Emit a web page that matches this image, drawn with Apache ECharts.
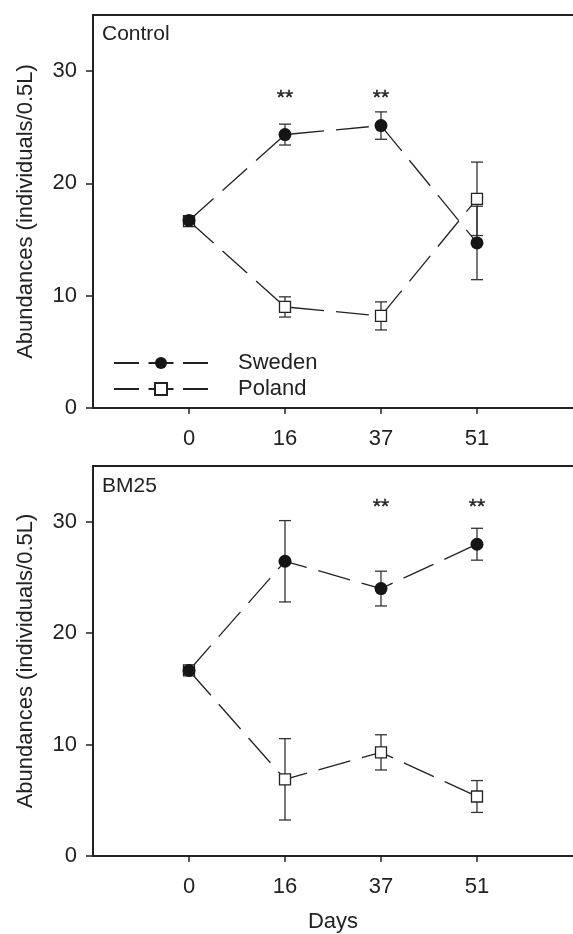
<!DOCTYPE html>
<html><head><meta charset="utf-8">
<script src="https://cdn.jsdelivr.net/npm/echarts@6/dist/echarts.min.js"></script>
<style>html,body{margin:0;padding:0;background:#fff}#c{width:573px;height:934px}</style>
</head><body><div id="c"></div>
<script>
// ---- data ----
const days = ['0', '16', '37', '51'];
const panelLabels = ['Control', 'BM25'];
const yTicks = [0, 10, 20, 30];
const controlSweden = [16.7, 24.35, 25.15, 14.7];
const controlSwedenErr = [0, 0.93, 1.22, 3.27];
const controlPoland = [16.65, 9.0, 8.2, 18.63];
const controlPolandErr = [0, 0.9, 1.25, 3.27];
const bm25Sweden = [16.65, 26.45, 24.0, 27.98];
const bm25SwedenErr = [0, 3.65, 1.56, 1.43];
const bm25Poland = [16.65, 6.88, 9.3, 5.34];
const bm25PolandErr = [0, 3.65, 1.58, 1.43];
// y position (data units) of the "**" significance marks
const controlStars = [null, 27.6, 27.6, null];
const bm25Stars = [null, null, 31.3, 31.3];

const FONT = '"Liberation Sans", Arial, sans-serif';
const INK = '#222';

function errData(vals, errs) {
  return vals.map((v, i) => [i, v - errs[i], v + errs[i]]);
}
function lineData(vals) { return vals.map((v, i) => [i, v]); }
function starData(s) { return s.map((v, i) => v == null ? null : [i, v]).filter(d => d); }

function errRender(params, api) {
  const x = api.value(0), lo = api.value(1), hi = api.value(2);
  if (!(hi - lo > 0)) return null;
  const p1 = api.coord([x, hi]), p2 = api.coord([x, lo]);
  const w = 6;
  const style = { stroke: '#333', lineWidth: 1.3 };
  return { type: 'group', children: [
    { type: 'line', shape: { x1: p1[0], y1: p1[1], x2: p2[0], y2: p2[1] }, style },
    { type: 'line', shape: { x1: p1[0] - w, y1: p1[1], x2: p1[0] + w, y2: p1[1] }, style },
    { type: 'line', shape: { x1: p2[0] - w, y1: p2[1], x2: p2[0] + w, y2: p2[1] }, style }
  ]};
}
function starRender(params, api) {
  const p = api.coord([api.value(0), api.value(1)]);
  return { type: 'text', x: p[0], y: p[1], style: {
    text: '**', fontSize: 21, fontFamily: FONT, fill: INK, align: 'center', verticalAlign: 'middle',
    stroke: INK, lineWidth: 0.4 } };
}

const grids = [
  { left: 93, top: 15, width: 480, height: 393 },
  { left: 93, top: 466, width: 480, height: 393 }
];

function xAxisFor(i, withName) {
  return {
    type: 'value', gridIndex: i, min: -1, max: 4, position: 'bottom',
    name: withName ? 'Days' : '', nameLocation: 'middle', nameGap: 55,
    nameTextStyle: { fontSize: 22, fontFamily: FONT, color: INK },
    axisLine: { onZero: false, lineStyle: { color: INK, width: 2 } },
    axisTick: { show: true, length: 6, customValues: [0, 1, 2, 3], lineStyle: { color: INK, width: 1.5 } },
    axisLabel: { customValues: [0, 1, 2, 3], formatter: v => days[Math.round(v)], margin: 20,
      fontSize: 22, fontFamily: FONT, color: INK },
    splitLine: { show: false }
  };
}
// top frame line of each panel
function xTopFor(i) {
  return {
    type: 'value', gridIndex: i, min: -1, max: 4, position: 'top',
    axisLine: { show: true, onZero: false, lineStyle: { color: INK, width: 2 } },
    axisTick: { show: false }, axisLabel: { show: false }, splitLine: { show: false }
  };
}
function yAxisFor(i) {
  return {
    type: 'value', gridIndex: i, min: 0, max: 35,
    name: 'Abundances (individuals/0.5L)', nameLocation: 'middle', nameGap: 56,
    nameTextStyle: { fontSize: 22, fontFamily: FONT, color: INK },
    axisLine: { show: true, onZero: false, lineStyle: { color: INK, width: 2 } },
    axisTick: { show: true, length: 7, customValues: yTicks, lineStyle: { color: INK, width: 1.5 } },
    axisLabel: { customValues: yTicks, margin: 16, fontSize: 22, fontFamily: FONT, color: INK },
    splitLine: { show: false }
  };
}

function panelSeries(i, sw, swErr, pl, plErr, stars) {
  const base = { xAxisIndex: i, yAxisIndex: i };
  return [
    Object.assign({ type: 'custom', renderItem: errRender, data: errData(pl, plErr), encode: { x: 0, y: [1, 2] }, silent: true }, base),
    Object.assign({ type: 'custom', renderItem: errRender, data: errData(sw, swErr), encode: { x: 0, y: [1, 2] }, silent: true }, base),
    Object.assign({ name: 'Poland', type: 'line', data: lineData(pl), symbol: 'rect', symbolSize: 11,
      itemStyle: { color: '#fff', borderColor: INK, borderWidth: 1.3 },
      lineStyle: { color: INK, width: 1.3, type: [33, 12] } }, base),
    Object.assign({ name: 'Sweden', type: 'line', data: lineData(sw), symbol: 'circle', symbolSize: 13,
      itemStyle: { color: '#151515', borderColor: '#151515', borderWidth: 0 },
      lineStyle: { color: INK, width: 1.3, type: [33, 12] } }, base),
    Object.assign({ type: 'custom', renderItem: starRender, data: starData(stars), encode: { x: 0, y: 1 }, silent: true }, base)
  ];
}

const option = {
  animation: false,
  backgroundColor: '#fff',
  grid: grids.map(g => Object.assign({ show: false }, g)),
  xAxis: [xAxisFor(0, false), xAxisFor(1, true), xTopFor(0), xTopFor(1)],
  yAxis: [yAxisFor(0), yAxisFor(1)],
  legend: {
    data: ['Sweden', 'Poland'], orient: 'vertical', left: 108, top: 347,
    itemWidth: 94, itemHeight: 15, itemGap: 4, selectedMode: false,
    lineStyle: { type: [25, 9.5] },
    textStyle: { fontSize: 22, fontFamily: FONT, color: INK, lineHeight: 22, padding: [0, 0, 0, 25] }
  },
  graphic: [
    { type: 'text', left: 102, top: 24, style: { text: panelLabels[0], fontSize: 21, fontFamily: FONT, fill: INK } },
    { type: 'text', left: 102, top: 476, style: { text: panelLabels[1], fontSize: 21, fontFamily: FONT, fill: INK } }
  ],
  series: [].concat(
    panelSeries(0, controlSweden, controlSwedenErr, controlPoland, controlPolandErr, controlStars),
    panelSeries(1, bm25Sweden, bm25SwedenErr, bm25Poland, bm25PolandErr, bm25Stars)
  )
};
const chart = echarts.init(document.getElementById('c'), null, { renderer: 'canvas' });
chart.setOption(option);
</script></body></html>
